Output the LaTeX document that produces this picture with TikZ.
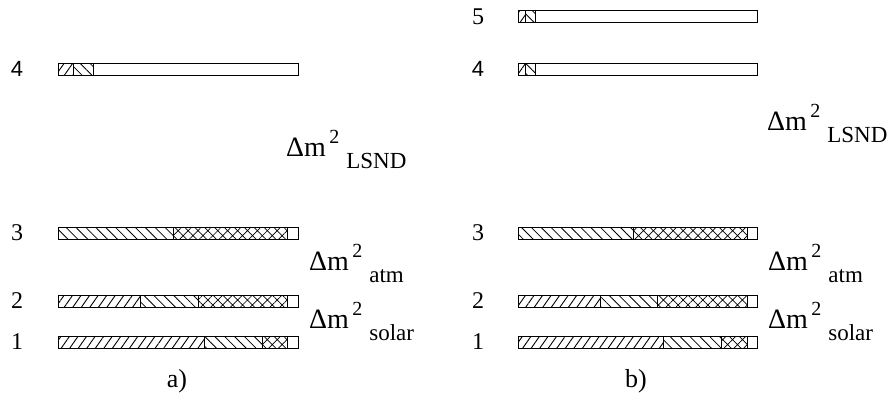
\documentclass[tikz,border=0pt]{standalone}
\usepackage{fontspec}
\setmainfont{Liberation Serif}
\newfontfamily\serf{Liberation Serif}
\newfontfamily\sansf{Liberation Sans}
\usetikzlibrary{patterns.meta}
\newcommand\seg[4]{\draw[bar,#4] (#1,#3) rectangle (#2,#3+12);}
\newcommand\dml[4]{%
  \node[anchor=base west, inner sep=0pt, font=\serf\fontsize{28}{28}\selectfont] (#1) at (#2,#3) {Δm};
  \node[anchor=base west, inner sep=0pt, font=\serf\fontsize{20}{20}\selectfont] (#1s) at ([xshift=3pt,yshift=13pt]#1.base east) {2};
  \node[anchor=base west, inner sep=0pt, font=\serf\fontsize{23}{23}\selectfont] (#1t) at ([xshift=20pt,yshift=-12pt]#1.base east) {#4};
}
\begin{document}
\begin{tikzpicture}[x=1pt,y=-1pt,
  bar/.style={draw=black,line width=0.8pt},
  fw/.style={pattern={Lines[angle=55,distance=7pt,line width=0.9pt]}},
  bk/.style={pattern={Lines[angle=-45,distance=7pt,line width=0.8pt]}},
  cr/.style={pattern={Hatch[angle=45,distance=7pt,line width=0.7pt]}},
  wh/.style={fill=white},
  num/.style={font=\serf\fontsize{24}{24}\selectfont, inner sep=0pt}]
\useasboundingbox[fill=white] (0,0) rectangle (888,399);
% ---------- a) ----------
\node[num,font=\sansf\fontsize{22}{22}\selectfont] (na4) at (17,69) {4};
\node[num] (na3) at (17,233) {3};
\node[num] (na2) at (17,301) {2};
\node[num] (na1) at (17,342) {1};
\seg{58}{73}{63}{fw}\seg{73}{93}{63}{bk}\seg{93}{298}{63}{wh}
\seg{58}{173}{227}{bk}\seg{173}{287}{227}{cr}\seg{287}{298}{227}{wh}
\seg{58}{140}{295}{fw}\seg{140}{198}{295}{bk}\seg{198}{287}{295}{cr}\seg{287}{298}{295}{wh}
\seg{58}{204}{336}{fw}\seg{204}{262}{336}{bk}\seg{262}{287}{336}{cr}\seg{287}{298}{336}{wh}
\dml{la}{286}{156}{LSND}
\dml{aa}{309}{270}{atm}
\dml{sa}{309}{328}{solar}
\node[num,font=\serf\fontsize{26}{26}\selectfont] (capa) at (177,381) {a)};
% ---------- b) ----------
\node[num] (nb5) at (478,17) {5};
\node[num,font=\sansf\fontsize{22}{22}\selectfont] (nb4) at (478,69) {4};
\node[num] (nb3) at (478,233) {3};
\node[num] (nb2) at (478,301) {2};
\node[num] (nb1) at (478,342) {1};
\seg{518}{525}{10}{fw}\seg{525}{535}{10}{bk}\seg{535}{757}{10}{wh}
\seg{518}{525}{63}{fw}\seg{525}{535}{63}{bk}\seg{535}{757}{63}{wh}
\seg{518}{633}{227}{bk}\seg{633}{747}{227}{cr}\seg{747}{757}{227}{wh}
\seg{518}{600}{295}{fw}\seg{600}{657}{295}{bk}\seg{657}{747}{295}{cr}\seg{747}{757}{295}{wh}
\seg{518}{663}{336}{fw}\seg{663}{721}{336}{bk}\seg{721}{747}{336}{cr}\seg{747}{757}{336}{wh}
\dml{lb}{767}{130}{LSND}
\dml{ab}{768}{270}{atm}
\dml{sb}{768}{328}{solar}
\node[num,font=\serf\fontsize{26}{26}\selectfont] (capb) at (636,381) {b)};
\end{tikzpicture}
\end{document}
